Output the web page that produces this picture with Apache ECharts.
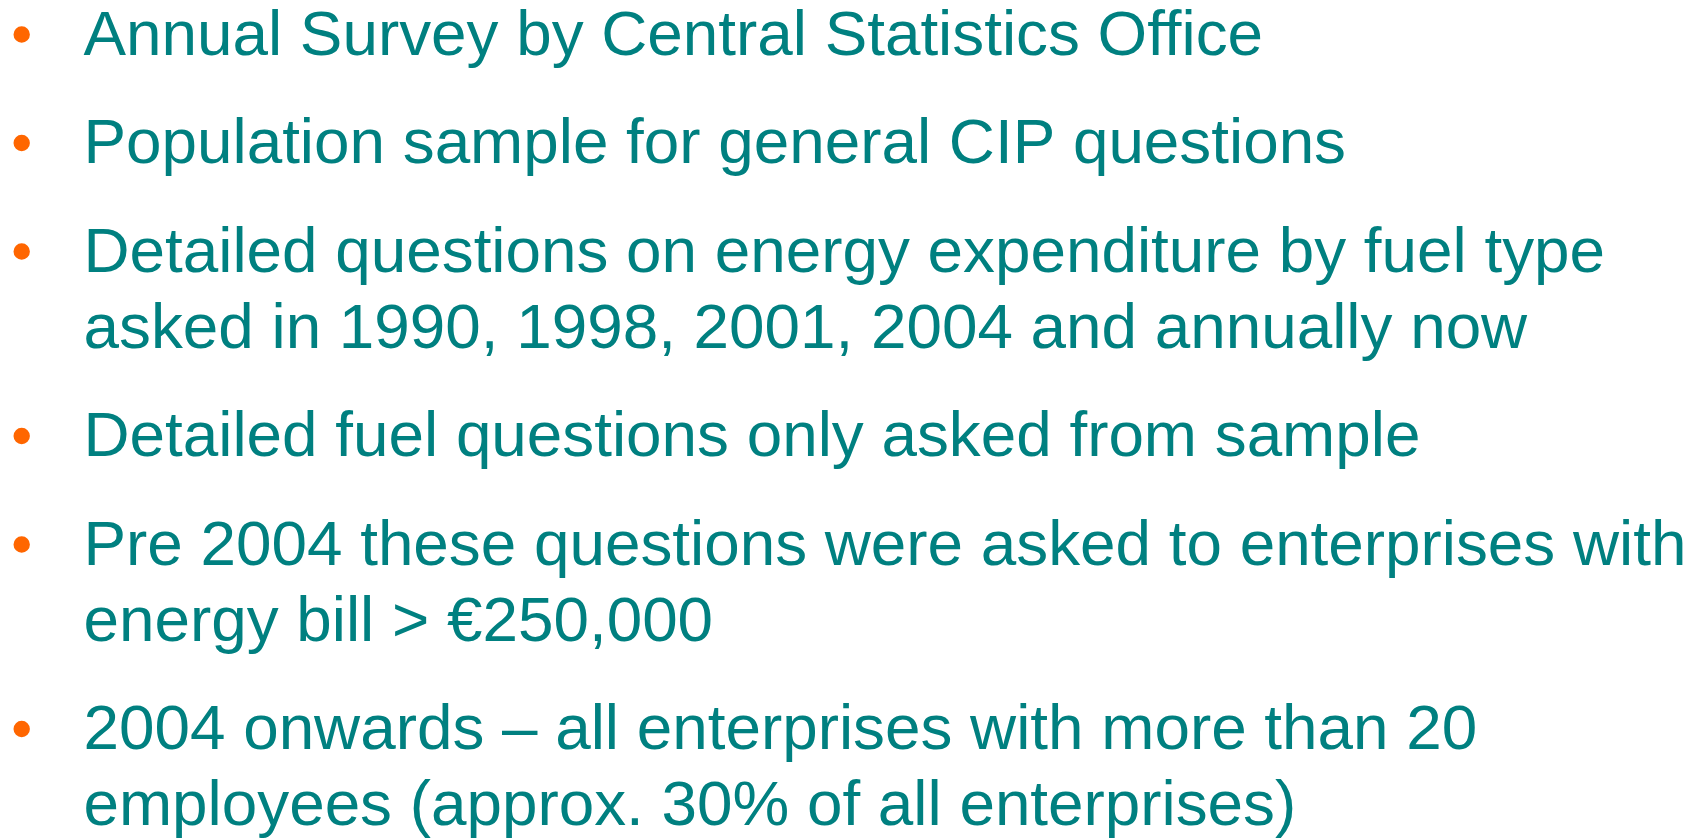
<!DOCTYPE html>
<html>
<head>
<meta charset="utf-8">
<script src="https://cdn.jsdelivr.net/npm/echarts@6/dist/echarts.min.js"></script>
<style>
  html, body { margin: 0; padding: 0; background: #fff; }
  #slide { width: 1704px; height: 838px; }
</style>
</head>
<body>
<div id="slide"></div>
<script>
// bullet points, each one is a list of wrapped lines
var bullets = [
    ["Annual Survey by Central Statistics Office"],
    ["Population sample for general CIP questions"],
    ["Detailed questions on energy expenditure by fuel type",
     "asked in 1990, 1998, 2001, 2004 and annually now"],
    ["Detailed fuel questions only asked from sample"],
    ["Pre 2004 these questions were asked to enterprises with",
     "energy bill > \u20ac250,000"],
    ["2004 onwards \u2013 all enterprises with more than 20",
     "employees (approx. 30% of all enterprises)"]
];

var textColor = '#008080';
var dotColor = '#FF6600';

function initSlide() {
    var myChart = echarts.init(document.getElementById('slide'));
    var elements = [];
    var baseline = 57;      // first baseline
    var lineGap = 76;       // wrapped line step
    var bulletGap = 108.5;  // step between bullets

    bullets.forEach(function (lines, i) {
        elements.push({
            type: 'circle',
            shape: { cx: 21.7, cy: baseline - 22.5, r: 8.2 },
            style: { fill: dotColor }
        });
        lines.forEach(function (line, j) {
            elements.push({
                type: 'text',
                x: 83.5,
                y: baseline + j * lineGap - 20,
                style: {
                    text: line,
                    fill: textColor,
                    font: '63.8px "Liberation Sans", Arial, sans-serif',
                    align: 'left',
                    verticalAlign: 'middle'
                }
            });
        });
        baseline += (lines.length - 1) * lineGap + bulletGap;
    });

    var option = {
        backgroundColor: '#fff',
        animation: false,
        graphic: { elements: elements }
    };
    myChart.setOption(option);
}
initSlide();
</script>
</body>
</html>
